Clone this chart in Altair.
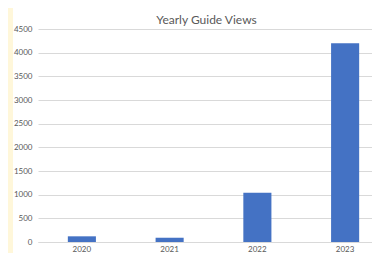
import altair as alt
import pandas as pd

years = ["2020", "2021", "2022", "2023"]
views = [120, 90, 1040, 4200]
y_ticks = [0, 500, 1000, 1500, 2000, 2500, 3000, 3500, 4000, 4500]
title_text = "Yearly Guide Views"

df = pd.DataFrame({"year": years, "views": views})

FONT = "Lato"
GREY = "#595959"
GRID = "#D9D9D9"

one_row = alt.Data(values=[{"k": 1}])

strip = alt.Chart(one_row).mark_rect(color="#FFF7DA").encode(
    x=alt.value(-30), x2=alt.value(-25), y=alt.value(-21), y2=alt.value(224)
)

title = alt.Chart(one_row).mark_text(
    text=title_text, font=FONT, fontSize=12, color=GREY,
    align="center", baseline="alphabetic",
).encode(x=alt.value(168.5), y=alt.value(-5))

bars = alt.Chart(df).mark_bar(color="#4472C4").encode(
    x=alt.X(
        "year:N",
        sort=years,
        scale=alt.Scale(range=[0, 351], paddingInner=0.68, paddingOuter=0.34),
        axis=alt.Axis(
            title=None, labelAngle=0, ticks=False, domainColor=GRID,
            labelFontSize=8, labelColor=GREY, labelFont=FONT, labelPadding=3,
        ),
    ),
    y=alt.Y(
        "views:Q",
        scale=alt.Scale(domain=[0, 4500], nice=False),
        axis=alt.Axis(
            title=None, values=y_ticks, format="d", grid=True, gridColor=GRID,
            domain=False, ticks=False, labelFontSize=8, labelColor=GREY,
            labelFont=FONT, labelPadding=6,
        ),
    ),
)

chart = alt.layer(strip, bars, title).properties(
    width=334,
    height=213,
    autosize=alt.AutoSizeParams(type="none"),
    padding={"left": 30, "top": 21, "right": 0, "bottom": 11},
    background="white",
).configure_view(stroke=None)

chart.save("out.html", embed_options={"renderer": "svg", "actions": False})
